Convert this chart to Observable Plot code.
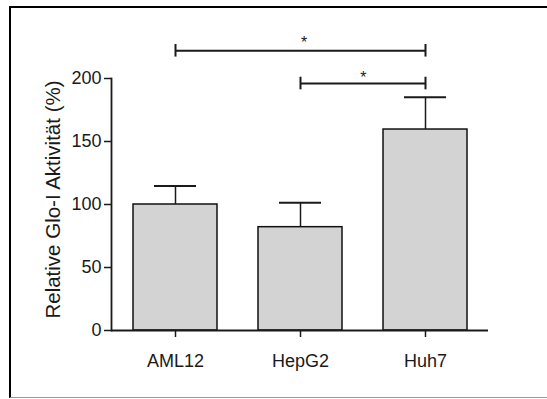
<!DOCTYPE html>
<html>
<head>
<meta charset="utf-8">
<script src="https://cdn.jsdelivr.net/npm/d3@7"></script>
<script src="https://cdn.jsdelivr.net/npm/@observablehq/plot@0.6"></script>
<style>
  html, body { margin: 0; padding: 0; background: #fff; }
  #wrap { position: relative; width: 547px; height: 399px; overflow: hidden; }
  #border { position: absolute; left: 9px; top: 6px; width: 538px; height: 392px; box-sizing: border-box;
            border-left: 2px solid #000; border-top: 2px solid #000; border-bottom: 1px solid #999; pointer-events: none; }
  #chart { position: absolute; left: 0; top: 0; }
</style>
</head>
<body>
<div id="wrap"><div id="chart"></div><div id="border"></div></div>
<script>
// Data
const cells = ["AML12", "HepG2", "Huh7"];
const means = [100, 82, 159.5];
const sds = [14.7, 19.3, 25.6];
const yTicks = [0, 50, 100, 150, 200];
const yLabel = "Relative Glo-I Aktivität (%)";
// significance brackets
const bracketFrom = ["AML12", "HepG2"];
const bracketTo = ["Huh7", "Huh7"];
const bracketY = [222, 196];
const bracketLabels = ["*", "*"];

const bars = cells.map((c, i) => ({cell: c, mean: means[i], top: means[i] + sds[i]}));
const brackets = bracketFrom.map((f, i) => ({from: f, to: bracketTo[i], y: bracketY[i], label: bracketLabels[i]}));
const bracketEnds = brackets.flatMap(b => [{x: b.from, y: b.y}, {x: b.to, y: b.y}]);

const W = 547, H = 399, mL = 111, mR = 59;
const step = (W - mL - mR) / cells.length;
const font = "'Liberation Sans', Arial, sans-serif";
const ink = "#1a1a1a";

const plot = Plot.plot({
  width: W,
  height: H,
  marginLeft: mL,
  marginRight: mR,
  marginTop: 78,
  marginBottom: 69,
  style: {fontFamily: font, color: ink, background: "transparent", overflow: "visible"},
  x: {domain: cells, paddingInner: 0.33, paddingOuter: 0.165},
  y: {domain: [0, 200]},
  marks: [
    Plot.barY(bars, {x: "cell", y: "mean", fill: "#d3d3d3", stroke: "#111", strokeWidth: 1.5}),
    Plot.ruleX(bars, {x: "cell", y1: "mean", y2: "top", stroke: ink, strokeWidth: 1.5}),
    Plot.tickY(bars, {x: "cell", y: "top", stroke: ink, strokeWidth: 2, insetLeft: 21, insetRight: 21}),
    Plot.ruleY([0], {stroke: ink, strokeWidth: 1.8}),
    Plot.frame({anchor: "left", stroke: ink, strokeWidth: 1.8}),
    Plot.axisY({ticks: yTicks, tickSize: 7, tickPadding: 3, fontSize: 18, stroke: ink, strokeWidth: 1.5, label: null}),
    Plot.text([yLabel], {frameAnchor: "left", text: d => d, rotate: -90, textAnchor: "middle", lineAnchor: "middle",
                         dx: -58, dy: -5, fontSize: 20.5, fill: ink}),
    Plot.axisX({tickSize: 7, tickPadding: 17, fontSize: 18, stroke: ink, strokeWidth: 1.5, label: null}),
    Plot.link(brackets, {x1: "from", x2: "to", y1: "y", y2: "y", stroke: ink, strokeWidth: 2}),
    Plot.ruleX(bracketEnds, {x: "x", y1: d => d.y - 5, y2: d => d.y + 5, stroke: ink, strokeWidth: 2}),
    Plot.text(brackets.slice(0, 1), {x: "from", y: "y", text: "label", dx: step + 3, dy: -3, lineAnchor: "bottom", fontSize: 16, fill: ink}),
    Plot.text(brackets.slice(1), {x: "from", y: "y", text: "label", dx: step / 2, dy: -1, lineAnchor: "bottom", fontSize: 16, fill: ink})
  ]
});
document.getElementById("chart").appendChild(plot);
</script>
</body>
</html>
